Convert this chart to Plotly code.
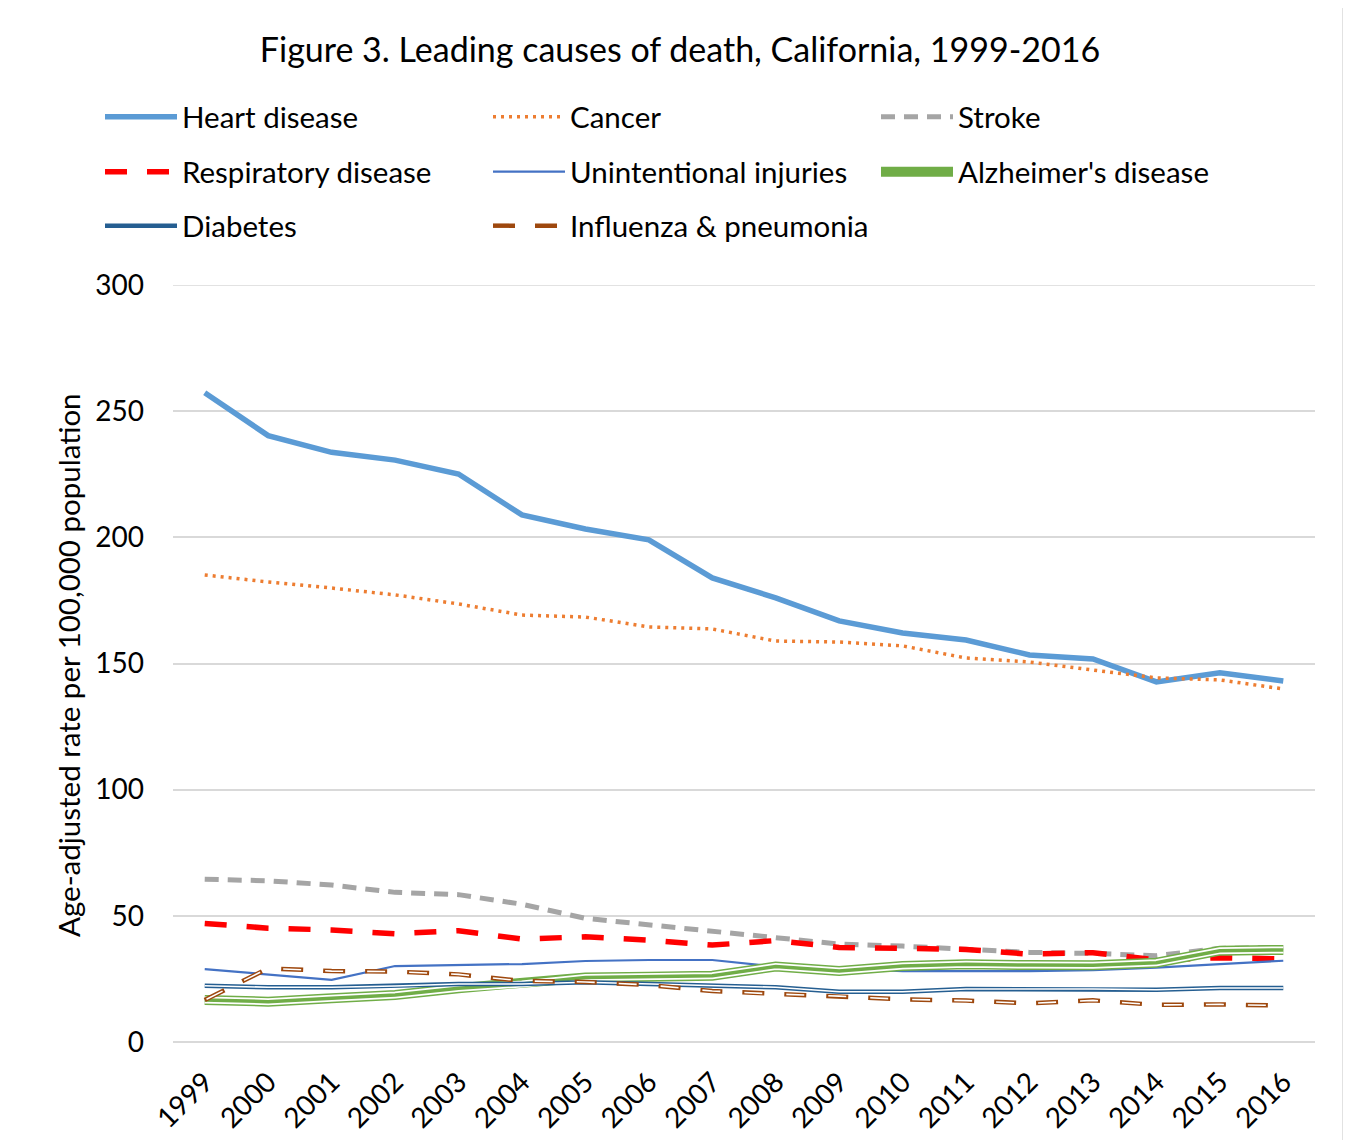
import plotly.graph_objects as go

years = [str(y) for y in range(1999, 2017)]

heart = [257.3, 240.3, 233.7, 230.6, 225.1, 208.9, 203.3, 199.0, 183.9, 176.0,
         166.9, 162.1, 159.3, 153.4, 151.8, 142.7, 146.3, 143.1]
cancer = [185.1, 182.3, 179.9, 177.2, 173.6, 169.2, 168.4, 164.5, 163.7, 158.9,
          158.5, 157.0, 152.2, 150.6, 147.4, 144.3, 143.5, 139.9]
stroke = [64.5, 63.9, 62.2, 59.3, 58.4, 54.6, 49.0, 46.4, 44.1, 41.1,
          38.8, 38.0, 36.7, 35.5, 35.1, 34.2, 37.1, 37.5]
respiratory = [47.0, 45.1, 44.4, 42.9, 44.1, 40.8, 41.7, 40.4, 38.4, 40.2,
               37.5, 37.1, 36.7, 34.8, 35.4, 32.5, 33.4, 32.9]
injuries = [28.9, 26.6, 24.6, 30.1, 30.6, 30.9, 32.1, 32.5, 32.5, 29.9,
            29.2, 28.1, 28.1, 28.1, 28.5, 29.5, 30.9, 32.2]
alzheimers = [16.6, 16.0, 17.3, 18.6, 21.3, 23.0, 25.6, 25.9, 26.3, 29.9,
              28.1, 30.1, 30.8, 30.5, 30.4, 31.4, 36.2, 36.5]
diabetes = [22.3, 21.7, 21.7, 22.2, 23.0, 23.0, 23.7, 23.0, 22.3, 21.7,
            19.9, 19.9, 21.0, 21.0, 21.0, 20.7, 21.4, 21.4]
influenza = [16.6, 29.2, 28.1, 27.9, 26.8, 24.2, 23.8, 22.6, 20.2, 19.0,
             18.2, 16.9, 16.4, 15.3, 16.5, 14.7, 14.9, 14.4]

y_min, y_max, y_step = 0, 300, 50

FONT = "Lato, 'Open Sans', sans-serif"

fig = go.Figure()


def add(y, name, color, width, dash="solid", legend="legend", show=True):
    fig.add_trace(go.Scatter(
        x=years, y=y, name=name, mode="lines",
        line=dict(color=color, width=width, dash=dash),
        legend=legend, showlegend=show, hoverinfo="skip" if not show else None,
    ))


add(heart, "Heart disease", "#5B9BD5", 5.5, legend="legend")
add(cancer, "Cancer", "#ED7D31", 3.5, dash="3px,5px", legend="legend")
add(stroke, "Stroke", "#A5A5A5", 5, dash="14px,9px", legend="legend")
add(respiratory, "Respiratory disease", "#FF0000", 5.5, dash="22px,20px", legend="legend2")
add(injuries, "Unintentional injuries", "#4472C4", 2.2, legend="legend2")
# Alzheimer's: triple compound line
add(alzheimers, "Alzheimer's disease", "#70AD47", 10, legend="legend2")
add(alzheimers, "Alzheimer's disease", "#FFFFFF", 7, legend="legend2", show=False)
add(alzheimers, "Alzheimer's disease", "#70AD47", 3.5, legend="legend2", show=False)
# Diabetes: double line
add(diabetes, "Diabetes", "#255E91", 4.5, legend="legend3")
add(diabetes, "Diabetes", "#FFFFFF", 1.6, legend="legend3", show=False)
# Influenza: double dashed line
add(influenza, "Influenza & pneumonia", "#9E480E", 4.5, dash="22px,20px", legend="legend3")
add(influenza, "Influenza & pneumonia", "#FFFFFF", 1.6, dash="0px,2px,18px,22px",
    legend="legend3", show=False)

# page has an 8px body margin; the figure is drawn at (8, 8)
OFF = 8
W, H = 1351 - 2 * OFF, 1148 - 2 * OFF
PL, PR, PT, PB = 173, 1315, 285, 1042          # plot area in page pixels
L, R, T, B = PL - OFF, W - (PR - OFF), PT - OFF, H - (PB - OFF)
pw, ph = PR - PL, PB - PT


def px_x(x):
    return (x - PL) / pw


def px_y(y):
    return (PB - y) / ph


legend_common = dict(
    orientation="h", xanchor="left", yanchor="middle",
    x=px_x(100), entrywidth=301, entrywidthmode="pixels",
    itemwidth=72, font=dict(family=FONT, size=29.5, color="#000000"),
    bgcolor="rgba(0,0,0,0)", traceorder="normal",
)

fig.update_layout(
    width=W, height=H,
    margin=dict(l=L, r=R, t=T, b=B, pad=0, autoexpand=False),
    paper_bgcolor="#FFFFFF", plot_bgcolor="#FFFFFF",
    font=dict(family=FONT, color="#000000"),
    title=dict(
        text="Figure 3. Leading causes of death, California, 1999-2016",
        x=(680 - OFF) / W, xanchor="center", xref="container",
        y=1 - (50 - OFF) / H, yanchor="middle", yref="container",
        font=dict(family=FONT, size=34, color="#000000"),
    ),
    legend=dict(legend_common, y=px_y(117)),
    legend2=dict(legend_common, y=px_y(172)),
    legend3=dict(legend_common, y=px_y(226)),
    xaxis=dict(
        type="category", range=[-0.5, 17.5], showgrid=False, showline=False,
        zeroline=False, ticks="", tickangle=-45, ticklabelstandoff=17,
        automargin=False,
        tickfont=dict(family=FONT, size=28, color="#000000"),
    ),
    yaxis=dict(
        range=[y_min, y_max], dtick=y_step, tick0=0, showgrid=True, gridcolor="#D9D9D9",
        gridwidth=1.5, zeroline=True, zerolinecolor="#D9D9D9", zerolinewidth=1.5,
        showline=False, ticks="", ticklabelstandoff=28, automargin=False,
        tickfont=dict(family=FONT, size=28, color="#000000"),
    ),
    annotations=[dict(
        text="Age-adjusted rate per 100,000 population",
        textangle=-90, xref="paper", yref="paper",
        x=px_x(68), y=px_y(665), xanchor="center", yanchor="middle",
        showarrow=False, font=dict(family=FONT, size=29.5, color="#000000"),
    )],
    shapes=[
        dict(type="line", xref="paper", yref="y", x0=0, x1=1, y0=y_max, y1=y_max,
             line=dict(color="#D9D9D9", width=1.5), layer="below"),
        dict(type="line", xref="paper", yref="paper",
             x0=px_x(1343), x1=px_x(1343), y0=px_y(OFF), y1=px_y(1148 - OFF),
             line=dict(color="#D9D9D9", width=1.5)),
    ],
    showlegend=True,
)

fig.write_html("out.html")
